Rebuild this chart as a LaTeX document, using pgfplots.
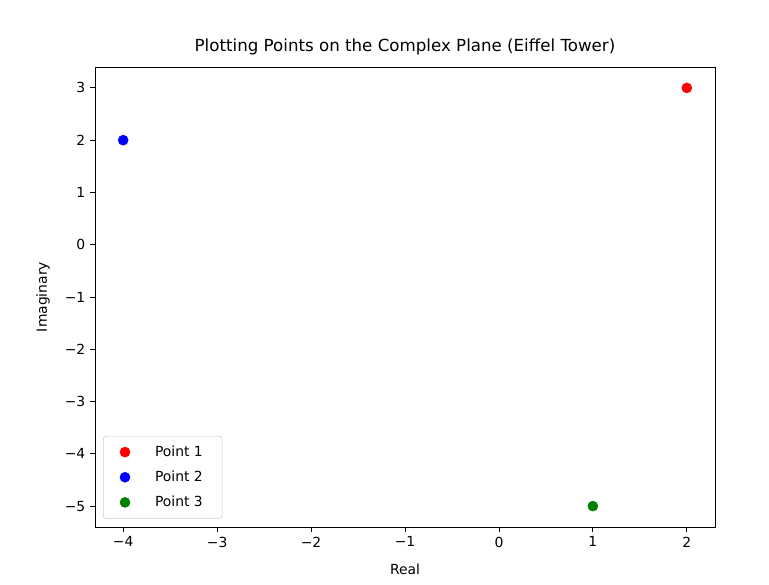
\documentclass[border=0pt]{standalone}
\usepackage{pgfplots}
\pgfplotsset{compat=1.18}
\usepackage{fontspec}
\setmainfont{DejaVu Sans}
\definecolor{mplgreen}{HTML}{008000}
\begin{document}
\begin{tikzpicture}
\useasboundingbox (-68.4pt,-41.04pt) rectangle (485.28pt,379.44pt);
\begin{axis}[
  scale only axis,
  width=446.4pt, height=331.2pt,
  xmin=-4.3, xmax=2.3, ymin=-5.4, ymax=3.4,
  xtick={-4,-3,-2,-1,0,1,2},
  xticklabels={−4,−3,−2,−1,0,1,2},
  ytick={-5,-4,-3,-2,-1,0,1,2,3},
  yticklabels={−5,−4,−3,−2,−1,0,1,2,3},
  tick align=outside, tick pos=left,
  major tick length=3.5pt,
  tick style={black, line width=0.6pt},
  axis line style={line width=0.6pt},
  ticklabel style={font=\fontsize{10}{12}\selectfont},
  title={Plotting Points on the Complex Plane (Eiffel Tower)},
  title style={font=\fontsize{12}{14}\selectfont, yshift=-1pt},
  xlabel={Real}, ylabel={Imaginary},
  xlabel style={yshift=-5pt},
  ylabel style={yshift=4pt},
  label style={font=\fontsize{10}{12}\selectfont},
  legend style={at={(0.013,0.018)}, anchor=south west, draw=black!20, rounded corners=2pt,
    font=\fontsize{10}{12}\selectfont, row sep=5pt, inner xsep=12pt, inner ysep=5pt},
  legend cell align=left,
  legend image code/.code={\draw[#1] plot coordinates {(0.3cm,0cm)};},
]
\addplot[only marks, mark=*, mark size=3.6pt, color=red] coordinates {(2,3)};
\addlegendentry{\hspace{16pt}Point 1}
\addplot[only marks, mark=*, mark size=3.6pt, color=blue] coordinates {(-4,2)};
\addlegendentry{\hspace{16pt}Point 2}
\addplot[only marks, mark=*, mark size=3.6pt, color=mplgreen] coordinates {(1,-5)};
\addlegendentry{\hspace{16pt}Point 3}
\end{axis}
\end{tikzpicture}
\end{document}
